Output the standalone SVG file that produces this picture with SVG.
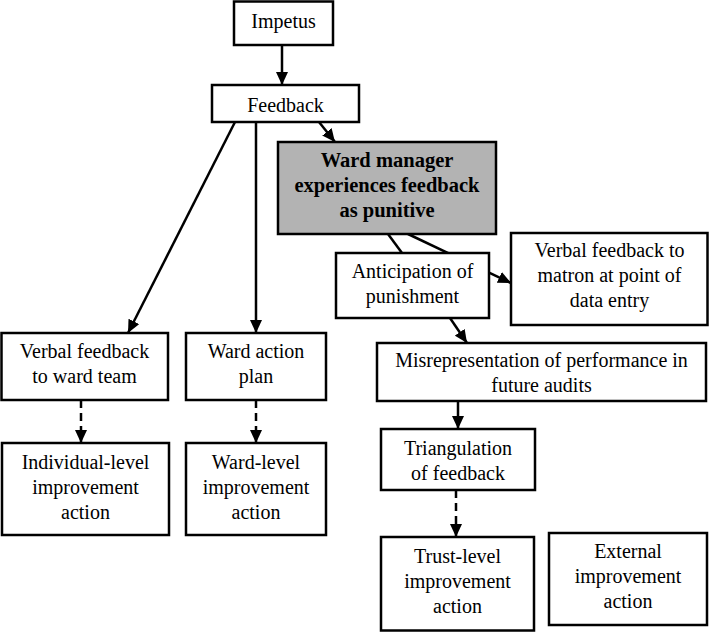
<svg xmlns="http://www.w3.org/2000/svg" width="709" height="632" viewBox="0 0 709 632">
  <style>
    .box { fill: #ffffff; stroke: #000000; stroke-width: 2.5; }
    .grey { fill: #b3b3b3; stroke: #000000; stroke-width: 2.5; }
    .lbl { font-family: 'Liberation Serif', serif; font-size: 20px; fill: #000000; text-anchor: middle; }
    .lblb { font-family: 'Liberation Serif', serif; font-size: 20.5px; font-weight: bold; fill: #000000; text-anchor: middle; }
    .c { fill: none; stroke: #000000; stroke-width: 2.5; }
    .arr { marker-end: url(#ah); }
    .dash { stroke-dasharray: 8 5; }
  </style>
  <defs>
    <marker id="ah" markerUnits="userSpaceOnUse" markerWidth="14" markerHeight="12" refX="13" refY="6" orient="auto">
      <path d="M0,0 L13,6 L0,12 Z" fill="#000000"/>
    </marker>
  </defs>
  <rect width="709" height="632" fill="#ffffff"/>
  <g id="connectors">
    <line class="c arr" x1="282" y1="45" x2="282" y2="85"/>
    <line class="c arr" x1="235" y1="122" x2="128" y2="333"/>
    <line class="c arr" x1="256" y1="122" x2="256" y2="333"/>
    <line class="c arr" x1="319" y1="122" x2="335" y2="142"/>
    <line class="c" x1="388" y1="234" x2="402" y2="253"/>
    <line class="c arr" x1="408" y1="234" x2="511" y2="283"/>
    <line class="c arr" x1="450" y1="318" x2="467" y2="343"/>
    <line class="c arr" x1="458" y1="401" x2="458" y2="429"/>
    <line class="c arr dash" x1="81" y1="400" x2="81" y2="443"/>
    <line class="c arr dash" x1="256" y1="400" x2="256" y2="443"/>
    <line class="c arr dash" x1="456" y1="490" x2="456" y2="537"/>
  </g>
  <g id="impetus">
    <rect class="box" x="234" y="1.5" width="99" height="43.5"/>
    <text class="lbl" x="283.5" y="28">Impetus</text>
  </g>
  <g id="feedback">
    <rect class="box" x="212" y="85" width="147" height="37"/>
    <text class="lbl" x="285.5" y="112">Feedback</text>
  </g>
  <g id="ward-manager">
    <rect class="grey" x="278" y="142" width="218" height="92"/>
    <text class="lblb" x="387" y="167">Ward manager</text>
    <text class="lblb" x="387" y="192">experiences feedback</text>
    <text class="lblb" x="387" y="217">as punitive</text>
  </g>
  <g id="anticipation">
    <rect class="box" x="336" y="253" width="153" height="65"/>
    <text class="lbl" x="412.5" y="278">Anticipation of</text>
    <text class="lbl" x="412.5" y="303">punishment</text>
  </g>
  <g id="verbal-matron">
    <rect class="box" x="511" y="233" width="196.5" height="92"/>
    <text class="lbl" x="609.5" y="257">Verbal feedback to</text>
    <text class="lbl" x="609.5" y="282">matron at point of</text>
    <text class="lbl" x="609.5" y="307">data entry</text>
  </g>
  <g id="misrepresentation">
    <rect class="box" x="377" y="343" width="329" height="58"/>
    <text class="lbl" x="541.5" y="367">Misrepresentation of performance in</text>
    <text class="lbl" x="541.5" y="392">future audits</text>
  </g>
  <g id="verbal-ward">
    <rect class="box" x="1.5" y="333" width="166.5" height="67"/>
    <text class="lbl" x="84.5" y="358">Verbal feedback</text>
    <text class="lbl" x="84.5" y="383">to ward team</text>
  </g>
  <g id="ward-action-plan">
    <rect class="box" x="186" y="333" width="140" height="67"/>
    <text class="lbl" x="256" y="358">Ward action</text>
    <text class="lbl" x="256" y="383">plan</text>
  </g>
  <g id="individual-level">
    <rect class="box" x="2" y="443" width="167" height="92"/>
    <text class="lbl" x="85.5" y="469">Individual-level</text>
    <text class="lbl" x="85.5" y="494">improvement</text>
    <text class="lbl" x="85.5" y="519">action</text>
  </g>
  <g id="ward-level">
    <rect class="box" x="186" y="443" width="140" height="92"/>
    <text class="lbl" x="256" y="469">Ward-level</text>
    <text class="lbl" x="256" y="494">improvement</text>
    <text class="lbl" x="256" y="519">action</text>
  </g>
  <g id="triangulation">
    <rect class="box" x="381" y="429" width="154" height="61"/>
    <text class="lbl" x="458" y="455">Triangulation</text>
    <text class="lbl" x="458" y="480">of feedback</text>
  </g>
  <g id="trust-level">
    <rect class="box" x="381" y="537" width="153" height="93.5"/>
    <text class="lbl" x="457.5" y="563">Trust-level</text>
    <text class="lbl" x="457.5" y="588">improvement</text>
    <text class="lbl" x="457.5" y="613">action</text>
  </g>
  <g id="external">
    <rect class="box" x="549" y="533" width="158" height="92"/>
    <text class="lbl" x="628" y="558">External</text>
    <text class="lbl" x="628" y="583">improvement</text>
    <text class="lbl" x="628" y="608">action</text>
  </g>
</svg>
